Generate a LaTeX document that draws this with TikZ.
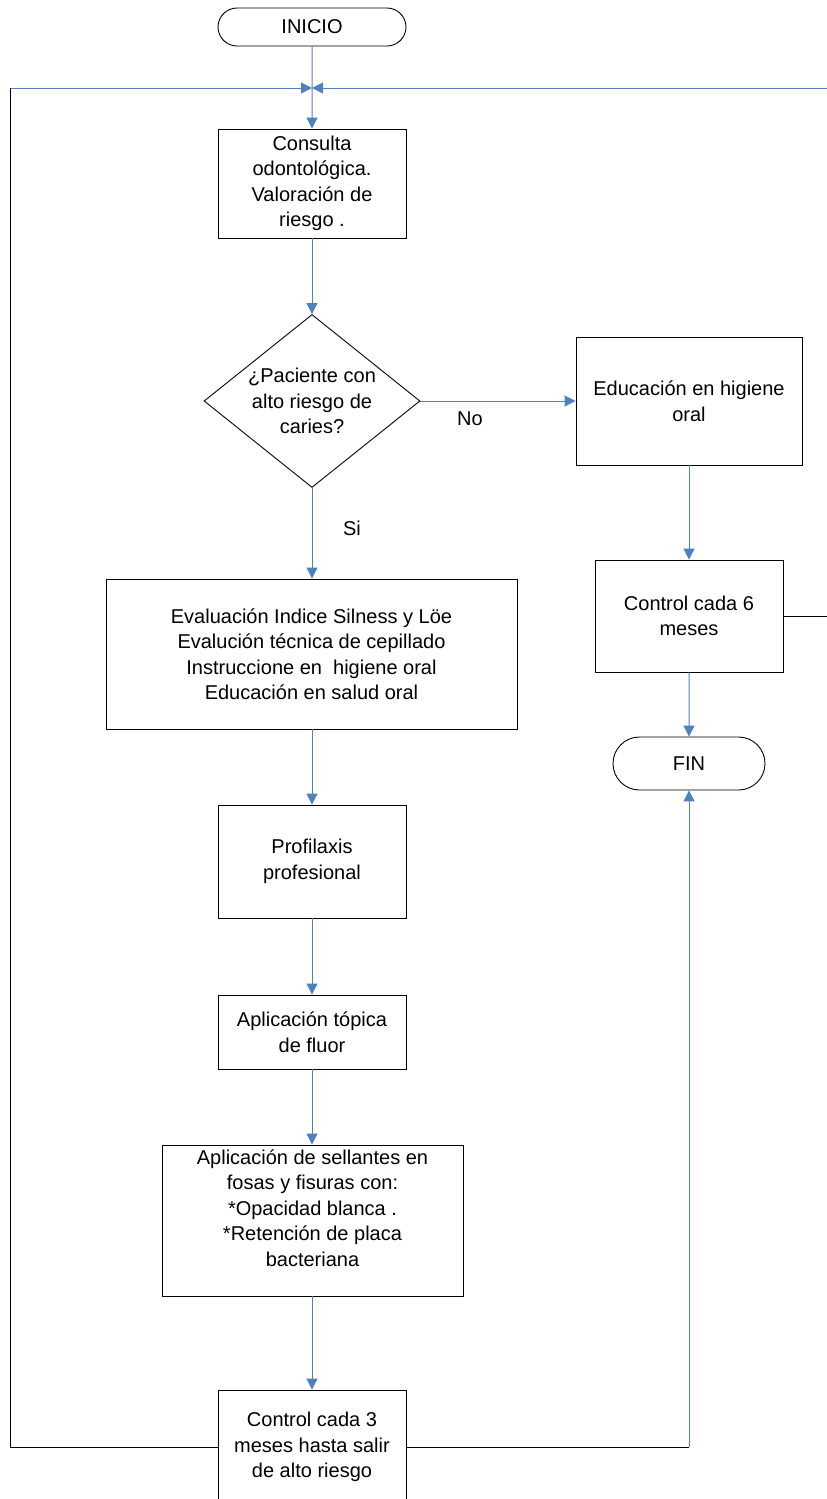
\documentclass[tikz,border=0pt]{standalone}
\usepackage{fontspec}
\setmainfont{Liberation Sans}
\usetikzlibrary{shapes.geometric,shapes.misc,arrows.meta}
\definecolor{lnblue}{RGB}{79,129,189}
\begin{document}
\begin{tikzpicture}[x=1pt,y=-1pt,
 box/.style={draw=black,line width=0.9pt,rectangle,inner sep=0pt,align=center,font=\fontsize{20}{25.5}\selectfont},
 term/.style={draw=black,line width=0.9pt,rounded rectangle,inner sep=0pt,font=\fontsize{20}{24}\selectfont},
 dia/.style={draw=black,line width=0.9pt,diamond,inner sep=0pt},
 flow/.style={draw=lnblue,line width=1pt,-{Triangle[length=11pt,width=11pt]}},
 back/.style={draw=black,line width=0.9pt},
 lbl/.style={font=\fontsize{20}{25.5}\selectfont,inner sep=0pt,align=center}]
\useasboundingbox (0,0) rectangle (827,1499);
\clip (0,0) rectangle (827,1499);

% nodes
\node[term,minimum width=188pt,minimum height=38pt] (ini) at (312,27) {INICIO};
\node[box,minimum width=188pt,minimum height=109pt] (cons) at (312,183.5) {Consulta\\odontológica.\\Valoración de\\riesgo .};
\node[dia,minimum width=216pt,minimum height=173pt] (dec) at (312,401) {};
\node[lbl] (dect) at (dec.center) {¿Paciente con\\alto riesgo de\\caries?};
\node[box,minimum width=226pt,minimum height=128pt] (edu) at (689,401) {Educación en higiene\\oral};
\node[box,minimum width=188pt,minimum height=112pt] (c6) at (689,616) {Control cada 6\\meses};
\node[term,minimum width=152pt,minimum height=53pt] (fin) at (689,763.5) {FIN};
\node[box,minimum width=411pt,minimum height=150pt] (eval) at (311.5,654) {Evaluación Indice Silness y Löe\\Evalución técnica de cepillado\\Instruccione en\ \ higiene oral\\Educación en salud oral};
\node[box,minimum width=188pt,minimum height=113pt] (prof) at (312,861.5) {Profilaxis\\profesional};
\node[box,minimum width=188pt,minimum height=74pt] (top) at (312,1032) {Aplicación tópica\\de fluor};
\node[box,minimum width=301pt,minimum height=151pt] (sell) at (312.5,1220.5) {};
\node[lbl] (sellt) at (312.5,1208) {Aplicación de sellantes en\\fosas y fisuras con:\\*Opacidad blanca .\\*Retención de placa\\bacteriana};
\node[box,minimum width=188pt,minimum height=114pt] (c3) at (312,1447) {Control cada 3\\meses hasta salir\\de alto riesgo};

\node[lbl] (nolbl) at (470,419) {No};
\node[lbl] (silbl) at (352,528) {Si};

% coordinates
\coordinate (j) at (312,88);
\coordinate (lc) at (10,88);
\coordinate (rc) at (827,88);
\coordinate (rb) at (689,1447);
\coordinate (re) at (827,616);

% connectors
\draw[flow] (ini) -- (cons);
\draw[flow] (lc) -- (j);
\draw[flow] (rc) -- (j);
\draw[flow] (cons) -- (dec);
\draw[flow] (dec.east) -- (edu.west);
\draw[flow] (edu) -- (c6);
\draw[flow] (c6) -- (fin);
\draw[back] (c6.east) -- (re);
\draw[flow] (dec.south) -- (dec.south |- eval.north);
\draw[flow] (eval.south -| prof.north) -- (prof.north);
\draw[flow] (prof) -- (top);
\draw[flow] (top) -- (top.south |- sell.north);
\draw[flow] (top.south |- sell.south) -- (c3.north);
\draw[back] (c3.west) -| (lc);
\draw[back] (c3.east) -- (rb);
\draw[flow] (rb) -- (fin.south);
\end{tikzpicture}
\end{document}
